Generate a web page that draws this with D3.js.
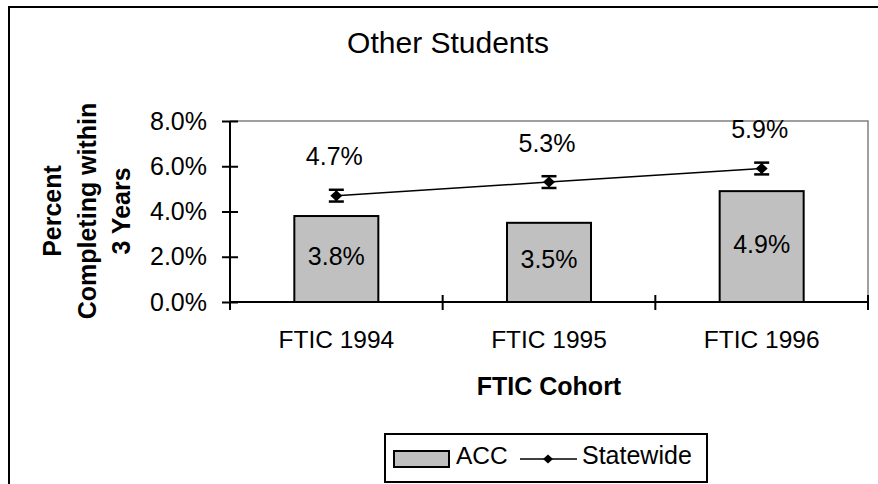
<!DOCTYPE html>
<html>
<head>
<meta charset="utf-8">
<script src="https://cdn.jsdelivr.net/npm/d3@7"></script>
<style>
  html, body { margin: 0; padding: 0; background: #fff; }
  svg { display: block; }
  text { font-family: Arial, "Liberation Sans", sans-serif; fill: #000; }
</style>
</head>
<body>
<svg id="chart" width="878" height="484"></svg>
<script>
const chartTitle = "Other Students";
const categories = ["FTIC 1994", "FTIC 1995", "FTIC 1996"];
const accValues = [3.8, 3.5, 4.9];
const statewideValues = [4.7, 5.3, 5.9];
const statewideError = [0.26, 0.26, 0.26];
const yTicks = [0, 2, 4, 6, 8];
const seriesNames = ["ACC", "Statewide"];
const yTitleLines = ["Percent", "Completing within", "3 Years"];
const xTitle = "FTIC Cohort";

const svg = d3.select("#chart");
const W = 878, H = 484;
const plot = { left: 230, right: 868, top: 121, bottom: 302 };

// outer chart frame (extends beyond the canvas on the right and bottom)
svg.append("rect")
  .attr("x", 9).attr("y", 7)
  .attr("width", W + 20).attr("height", H + 20)
  .attr("fill", "none").attr("stroke", "#000").attr("stroke-width", 2);

// title
svg.append("text")
  .attr("x", 448).attr("y", 53)
  .attr("text-anchor", "middle")
  .style("font-size", "30px")
  .text(chartTitle);

const x = d3.scaleBand().domain(categories).range([plot.left, plot.right]).padding(0);
const y = d3.scaleLinear().domain([0, 8]).range([plot.bottom, plot.top]);
const barW = x.bandwidth() * 0.395;
const cx = d => x(d) + x.bandwidth() / 2;

// plot area border (gray top & right)
svg.append("path")
  .attr("d", d3.line()([[plot.left, y(8)], [plot.right, y(8)], [plot.right, y(0)]]))
  .attr("fill", "none").attr("stroke", "#808080").attr("stroke-width", 1.5);

// bars
const data = categories.map((c, i) => ({ c, acc: accValues[i], sw: statewideValues[i], err: statewideError[i] }));
svg.append("g").selectAll("rect").data(data).join("rect")
  .attr("x", d => cx(d.c) - barW / 2)
  .attr("y", d => y(d.acc))
  .attr("width", barW)
  .attr("height", d => y(0) - y(d.acc))
  .attr("fill", "#c0c0c0").attr("stroke", "#000").attr("stroke-width", 2);

// bar labels
svg.append("g").selectAll("text").data(data).join("text")
  .attr("x", d => cx(d.c))
  .attr("y", d => (y(d.acc) + y(0)) / 2 + 6)
  .attr("text-anchor", "middle")
  .style("font-size", "25px")
  .text(d => d.acc.toFixed(1) + "%");

// y axis
const yAxis = svg.append("g")
  .attr("transform", `translate(${plot.left},0)`)
  .call(d3.axisLeft(y).tickValues(yTicks).tickSize(8).tickPadding(15)
    .tickFormat(d => d.toFixed(1) + "%"));
yAxis.select(".domain").attr("stroke", "#000").attr("stroke-width", 2)
  .attr("d", `M0,${y(8)}V${y(0)}`);
yAxis.selectAll(".tick line").attr("x1", 8).attr("x2", -8).attr("stroke-width", 2);
yAxis.selectAll(".tick text").style("font-size", "25px")
  .style("font-family", "Arial, 'Liberation Sans', sans-serif").attr("fill", "#000");

// x axis
const xAxis = svg.append("g")
  .attr("transform", `translate(0,${plot.bottom})`)
  .call(d3.axisBottom(x).tickSize(0).tickPadding(38));
xAxis.select(".domain").attr("stroke", "#000").attr("stroke-width", 2)
  .attr("d", `M${plot.left},0H${plot.right}`);
xAxis.selectAll(".tick text").style("font-size", "24.5px")
  .style("font-family", "Arial, 'Liberation Sans', sans-serif").attr("fill", "#000")
  .attr("dy", 0).attr("y", 46);
// boundary tick marks (crossing)
const boundaries = categories.map(c => x(c)).concat([x(categories[categories.length - 1]) + x.bandwidth()]);
xAxis.append("g").selectAll("line").data(boundaries).join("line")
  .attr("x1", d => d).attr("x2", d => d)
  .attr("y1", -7).attr("y2", 8)
  .attr("stroke", "#000").attr("stroke-width", 2);

// statewide line
svg.append("path")
  .datum(data)
  .attr("d", d3.line().x(d => cx(d.c)).y(d => y(d.sw)))
  .attr("fill", "none").attr("stroke", "#000").attr("stroke-width", 1.5);

// error bars
const eb = svg.append("g").selectAll("g").data(data).join("g");
eb.append("line")
  .attr("x1", d => cx(d.c)).attr("x2", d => cx(d.c))
  .attr("y1", d => y(d.sw + d.err)).attr("y2", d => y(d.sw - d.err))
  .attr("stroke", "#000").attr("stroke-width", 2);
eb.append("line")
  .attr("x1", d => cx(d.c) - 7.5).attr("x2", d => cx(d.c) + 7.5)
  .attr("y1", d => y(d.sw + d.err)).attr("y2", d => y(d.sw + d.err))
  .attr("stroke", "#000").attr("stroke-width", 2.5);
eb.append("line")
  .attr("x1", d => cx(d.c) - 7.5).attr("x2", d => cx(d.c) + 7.5)
  .attr("y1", d => y(d.sw - d.err)).attr("y2", d => y(d.sw - d.err))
  .attr("stroke", "#000").attr("stroke-width", 2.5);

const diamond = (w, h) => `M0,${-h}L${w},0L0,${h}L${-w},0Z`;
svg.append("g").selectAll("path").data(data).join("path")
  .attr("transform", d => `translate(${cx(d.c)},${y(d.sw)})`)
  .attr("d", diamond(6, 5.5))
  .attr("fill", "#000");

// statewide labels
svg.append("g").selectAll("text").data(data).join("text")
  .attr("x", d => cx(d.c) - 2)
  .attr("y", d => y(d.sw) - 30.5)
  .attr("text-anchor", "middle")
  .style("font-size", "25px")
  .text(d => d.sw.toFixed(1) + "%");

// y axis title
const yt = svg.append("text")
  .attr("transform", "translate(0,211) rotate(-90)")
  .attr("text-anchor", "middle")
  .style("font-size", "25px").style("font-weight", "bold");
yt.selectAll("tspan").data(yTitleLines).join("tspan")
  .attr("x", 0)
  .attr("y", (d, i) => 61 + i * 34.5)
  .text(d => d);

// x axis title
svg.append("text")
  .attr("x", (plot.left + plot.right) / 2).attr("y", 395)
  .attr("text-anchor", "middle")
  .style("font-size", "25px").style("font-weight", "bold")
  .text(xTitle);

// legend
const lg = svg.append("g");
lg.append("rect")
  .attr("x", 385).attr("y", 434).attr("width", 322).attr("height", 48)
  .attr("fill", "#fff").attr("stroke", "#000").attr("stroke-width", 2);
lg.append("rect")
  .attr("x", 394).attr("y", 451).attr("width", 55).attr("height", 16)
  .attr("fill", "#c0c0c0").attr("stroke", "#000").attr("stroke-width", 2);
lg.append("text").attr("x", 456).attr("y", 463.5)
  .style("font-size", "24.5px").text(seriesNames[0]);
lg.append("line").attr("x1", 520).attr("x2", 577).attr("y1", 459).attr("y2", 459)
  .attr("stroke", "#000").attr("stroke-width", 1.5);
lg.append("path").attr("transform", "translate(548,459)")
  .attr("d", diamond(5, 4.5)).attr("fill", "#000");
lg.append("text").attr("x", 582).attr("y", 463.5)
  .style("font-size", "25px").text(seriesNames[1]);
</script>
</body>
</html>
